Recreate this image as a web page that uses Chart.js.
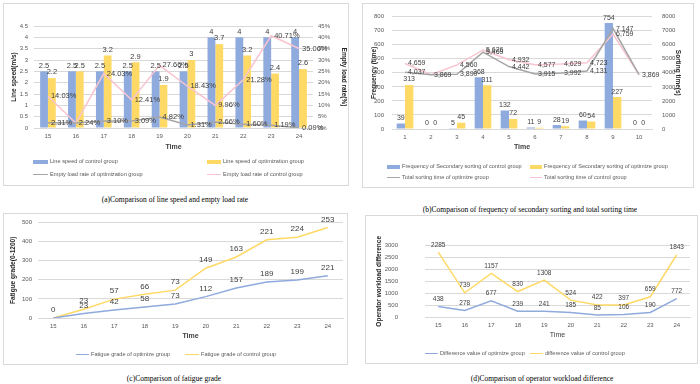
<!DOCTYPE html>
<html>
<head>
<meta charset="utf-8">
<script src="https://cdn.jsdelivr.net/npm/chart.js@4"></script>
<style>
  body { margin: 0; width: 700px; height: 384px; background: #fff; position: relative; overflow: hidden; font-family: "Liberation Sans", Arial, sans-serif; }
  .box { position: absolute; border: 1px solid #d9d9d9; box-sizing: border-box; }
  canvas { position: absolute; }
  .cap { position: absolute; font-family: "Liberation Serif", "Times New Roman", serif; font-size: 7.5px; color: #000; transform: translateX(-50%); white-space: nowrap; }
  .lg { position: absolute; font-size: 5.6px; color: #595959; white-space: nowrap; line-height: 8px; }
  .lg i { display: inline-block; vertical-align: middle; margin-right: 2px; }
</style>
</head>
<body>
<div class="box" style="left:3px;top:3px;width:346px;height:183px"></div>
<div class="box" style="left:362px;top:3px;width:332px;height:185px"></div>
<div class="box" style="left:3px;top:213px;width:345px;height:152px"></div>
<div class="box" style="left:365px;top:215px;width:333px;height:149px"></div>

<canvas id="cA" width="345" height="182" style="left:3px;top:3px"></canvas>
<canvas id="cB" width="331" height="184" style="left:362px;top:3px"></canvas>
<canvas id="cC" width="344" height="151" style="left:3px;top:213px"></canvas>
<canvas id="cD" width="332" height="148" style="left:365px;top:215px"></canvas>

<div class="lg" style="left:33px;top:157px"><i style="width:15px;height:4px;background:#8faadc"></i>Line speed of control group</div>
<div class="lg" style="left:207px;top:157px"><i style="width:14px;height:4px;background:#ffd966"></i>Line speed of optimization group</div>
<div class="lg" style="left:33px;top:170px"><i style="width:15px;height:1.5px;background:#a5a5a5"></i>Empty load rate of optimization group</div>
<div class="lg" style="left:207px;top:170px"><i style="width:14px;height:1.5px;background:#f8c4cf"></i>Empty load rate of control group</div>

<div class="lg" style="left:387px;top:162px"><i style="width:13px;height:4px;background:#8faadc"></i>Frequency of Secondary sorting of control group</div>
<div class="lg" style="left:530px;top:162px"><i style="width:12px;height:4px;background:#ffd966"></i>Frequency of Secondary sorting of optimize group</div>
<div class="lg" style="left:387px;top:173px"><i style="width:13px;height:1.5px;background:#a5a5a5"></i>Total sorting time of optimize group</div>
<div class="lg" style="left:530px;top:173px"><i style="width:12px;height:1.5px;background:#f8c4cf"></i>Total sorting time of control group</div>

<div class="lg" style="left:76px;top:350px"><i style="width:13px;height:1.5px;background:#8faadc"></i>Fatigue grade of optimize group</div>
<div class="lg" style="left:185px;top:350px"><i style="width:14px;height:1.5px;background:#ffd966"></i>Fatigue grade of control group</div>

<div class="lg" style="left:425px;top:349px"><i style="width:13px;height:1.5px;background:#8faadc"></i>Difference value of optimize group</div>
<div class="lg" style="left:530px;top:349px"><i style="width:13px;height:1.5px;background:#ffd966"></i>difference value of control group</div>

<div class="cap" style="left:175px;top:195px">(a)Comparison of line speed and empty load rate</div>
<div class="cap" style="left:530px;top:205px">(b)Comparison of frequency of secondary sorting and total sorting time</div>
<div class="cap" style="left:174px;top:374px">(c)Comparison of fatigue grade</div>
<div class="cap" style="left:542px;top:374px">(d)Comparison of operator workload difference</div>

<script>
// (a) line speed and empty load rate
const hoursA = ["15", "16", "17", "18", "19", "20", "21", "22", "23", "24"];
const speedControl = [2.5, 2.5, 2.5, 2.5, 2.5, 2.5, 4, 4, 4, 4];
const speedOptimize = [2.2, 2.5, 3.2, 2.9, 1.9, 3, 3.7, 3.2, 2.4, 2.6];
const emptyOptimize = [2.31, 2.24, 3.10, 3.09, 4.82, 1.31, 2.66, 1.60, 1.19, 0.09];
const emptyControl = [14.03, 2.2, 24.03, 12.41, 27.66, 18.43, 9.96, 21.28, 40.71, 35.06];

// (b) secondary sorting
const stepsB = ["1", "2", "3", "4", "5", "6", "7", "8", "9", "10"];
const freqControl = [39, 0, 5, 368, 132, 11, 28, 60, 754, 0];
const freqOptimize = [313, 0, 45, 311, 72, 9, 19, 54, 227, 0];
const sortOptimize = [4037, 3869, 3890, 5469, 4442, 3915, 3992, 4131, 7147, 3869];
const sortControl = [4659, 3869, 4560, 5626, 4932, 4577, 4629, 4723, 6759, 3869];

// (c) fatigue grade (stacked lines)
const fatigueOptimize = [0, 23, 42, 58, 73, 112, 157, 189, 199, 221];
const fatigueControl = [0, 23, 57, 66, 73, 149, 163, 221, 224, 253];

// (d) workload difference (stacked lines)
const workOptimize = [438, 278, 677, 239, 241, 185, 85, 106, 190, 772];
const workControl = [2285, 739, 1157, 830, 1308, 524, 422, 397, 659, 1843];

const BLUE = "#8faadc", YELLOW = "#ffd966", GREY = "#a5a5a5", PINK = "#f8c4cf";
const FONT = '"Liberation Sans", Arial, sans-serif';
const GRID = "#d9d9d9";

// draws the value next to each point / above each bar
const valueLabels = {
  id: "valueLabels",
  afterDatasetsDraw(chart) {
    const c = chart.ctx;
    chart.data.datasets.forEach((ds, di) => {
      if (!ds.labelPos) return;
      const meta = chart.getDatasetMeta(di);
      c.save();
      c.font = (ds.labelSize || 7.5) + "px " + FONT;
      c.fillStyle = "#404040";
      meta.data.forEach((el, i) => {
        if (ds.skipLabels && ds.skipLabels.includes(i)) return;
        const txt = ds.fmt ? ds.fmt(ds.data[i]) : String(ds.data[i]);
        if (ds.labelPos === "right") {
          c.textAlign = "left";
          c.textBaseline = "middle";
          c.fillText(txt, el.x + 3, el.y);
        } else {
          c.textAlign = "center";
          c.textBaseline = "bottom";
          c.fillText(txt, el.x, el.y - (ds.labelGap || 2));
        }
      });
      c.restore();
    });
  },
};

function xAxis(h, bold, pb) {
  return {
    offset: true,
    grid: { display: false, drawTicks: false },
    border: { color: GRID },
    ticks: { font: { family: FONT, size: 6 }, color: "#595959", padding: 5 },
    title: { display: true, text: "Time", color: "#404040", font: { family: FONT, size: 7, weight: bold ? "bold" : "normal" }, padding: { top: 0, bottom: pb } },
    afterFit(s) { s.height = h; },
  };
}

function yAxis(pos, w, min, max, step, title, cb, grid, tp, pt) {
  return {
    position: pos,
    min: min,
    max: max,
    grid: { display: grid, color: GRID, drawTicks: false },
    border: { display: false },
    ticks: { stepSize: step, font: { family: FONT, size: 6 }, color: "#595959", padding: tp, callback: cb },
    title: { display: true, text: title, color: "#262626", font: { family: FONT, size: 6.5, weight: "bold" }, padding: { top: pt } },
    afterFit(s) { s.width = w; },
  };
}

const base = {
  responsive: false,
  animation: false,
  events: [],
  plugins: { legend: { display: false }, tooltip: { enabled: false } },
};

new Chart(document.getElementById("cA"), {
  data: {
    labels: hoursA,
    datasets: [
      { type: "line", data: emptyOptimize, yAxisID: "y1", borderColor: GREY, borderWidth: 1.5, pointRadius: 0, order: 0, labelPos: "right", fmt: v => v.toFixed(2) + "%" },
      { type: "line", data: emptyControl, yAxisID: "y1", borderColor: PINK, borderWidth: 1.5, pointRadius: 0, order: 0, labelPos: "right", skipLabels: [1], fmt: v => v.toFixed(2) + "%" },
      { type: "bar", data: speedControl, yAxisID: "y", backgroundColor: BLUE, order: 1, labelPos: "top" },
      { type: "bar", data: speedOptimize, yAxisID: "y", backgroundColor: YELLOW, order: 1, labelPos: "top" },
    ],
  },
  options: {
    ...base,
    layout: { padding: { top: 23, bottom: 29, left: 0, right: 0 } },
    datasets: { bar: { categoryPercentage: 0.56, barPercentage: 1 } },
    scales: {
      x: xAxis(28, true, 5),
      y: yAxis("left", 31, 0, 4.5, 0.5, "Line speed(m/s)", v => v, true, 6, 7),
      y1: yAxis("right", 35, 0, 45, 5, "Empty load rate(%)", v => v + "%", false, 5, 0),
    },
  },
  plugins: [valueLabels],
});

new Chart(document.getElementById("cB"), {
  data: {
    labels: stepsB,
    datasets: [
      { type: "line", data: sortOptimize, yAxisID: "y1", borderColor: GREY, borderWidth: 1.5, pointRadius: 0, order: 0, labelPos: "right", labelSize: 7, fmt: v => v.toLocaleString("en-US") },
      { type: "line", data: sortControl, yAxisID: "y1", borderColor: PINK, borderWidth: 1.5, pointRadius: 0, order: 0, labelPos: "right", labelSize: 7, skipLabels: [1, 9], fmt: v => v.toLocaleString("en-US") },
      { type: "bar", data: freqControl, yAxisID: "y", backgroundColor: BLUE, order: 1, labelPos: "top", labelSize: 7 },
      { type: "bar", data: freqOptimize, yAxisID: "y", backgroundColor: YELLOW, order: 1, labelPos: "top", labelSize: 7 },
    ],
  },
  options: {
    ...base,
    layout: { padding: { top: 7, bottom: 30, left: 0, right: 0 } },
    datasets: { bar: { categoryPercentage: 0.64, barPercentage: 1 } },
    scales: {
      x: xAxis(28, true, 6),
      y: yAxis("left", 30, 0, 800, 100, "Frequency (time)", v => v, true, 8, 8),
      y1: yAxis("right", 41, 0, 8000, 1000, "Sorting time(s)", v => v, false, 10, 11),
    },
  },
  plugins: [valueLabels],
});

new Chart(document.getElementById("cC"), {
  type: "line",
  data: {
    labels: hoursA,
    datasets: [
      { data: fatigueOptimize, borderColor: BLUE, borderWidth: 1.5, pointRadius: 0, labelPos: "top", labelSize: 8, labelGap: 4, skipLabels: [0] },
      { data: fatigueControl, borderColor: YELLOW, borderWidth: 1.5, pointRadius: 0, labelPos: "top", labelSize: 8, labelGap: 4 },
    ],
  },
  options: {
    ...base,
    layout: { padding: { top: 9, bottom: 18, left: 0, right: 4 } },
    scales: {
      x: xAxis(28, true, 6),
      y: { ...yAxis("left", 35, 0, 500, 50, "Fatigue grade(0-1200)", v => v, true, 6, 6), stacked: true },
    },
  },
  plugins: [valueLabels],
});

new Chart(document.getElementById("cD"), {
  type: "line",
  data: {
    labels: hoursA,
    datasets: [
      { data: workOptimize, borderColor: BLUE, borderWidth: 1.5, pointRadius: 0, labelPos: "top", labelSize: 6.5, labelGap: 4 },
      { data: workControl, borderColor: YELLOW, borderWidth: 1.5, pointRadius: 0, labelPos: "top", labelSize: 6.5, labelGap: 4 },
    ],
  },
  options: {
    ...base,
    layout: { padding: { top: 11, bottom: 18, left: 0, right: 7 } },
    scales: {
      x: xAxis(28, false, 6),
      y: { ...yAxis("left", 60, 0, 3000, 500, "Operator workload difference", v => v, true, 27, 10), stacked: true },
    },
  },
  plugins: [valueLabels],
});
</script>
</body>
</html>
